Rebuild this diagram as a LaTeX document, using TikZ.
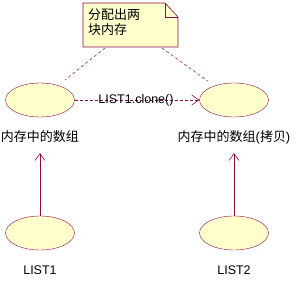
\documentclass[tikz,border=0pt]{standalone}
\usepackage{fontspec}
\setmainfont{Liberation Sans}
\newfontfamily\cjk{Noto Sans CJK SC}
\usetikzlibrary{arrows.meta,shapes.geometric}
\definecolor{rose}{RGB}{140,10,70}
\definecolor{pale}{RGB}{255,255,204}
\tikzset{
  uc/.style={ellipse,draw=rose,fill=pale,minimum width=69pt,minimum height=34pt,inner sep=0pt},
  lbl/.style={inner sep=1pt,font=\fontsize{12.5}{14}\selectfont},
  cj/.style={inner sep=1pt,font=\cjk\fontsize{13}{15.5}\selectfont},
  tipo/.style={-{Straight Barb[length=7pt,width=10pt,line width=0.6pt]}},
  dep/.style={draw=rose,dash pattern=on 3pt off 2pt,line width=0.6pt},
  anch/.style={draw=rose,dash pattern=on 3pt off 2.5pt,line width=0.5pt},
}
\begin{document}
\begin{tikzpicture}[x=1pt,y=-1pt]
\useasboundingbox (0,0) rectangle (303,286);
% note
\draw[rose,fill=pale,line width=0.6pt] (83,3) -- (165,3) -- (178,17) -- (178,47) -- (83,47) -- cycle;
\draw[rose,line width=0.6pt] (165,3) -- (165,17) -- (178,17);
\node[cj,anchor=north west,align=left,inner sep=0pt] (note) at (88,8) {分配出两\\[0pt]块内存};
\coordinate (n1) at (105,48);
\coordinate (n2) at (162,48);
% ellipses
\node[uc] (e1) at (40,100) {};
\node[uc] (e2) at (234,100) {};
\node[uc] (e3) at (40,233) {};
\node[uc] (e4) at (234,233) {};
% labels
\node[cj] (l1) at (40,137) {内存中的数组};
\node[cj] (l2) at (234,137) {内存中的数组\fontspec{Liberation Sans}(\cjk 拷贝\fontspec{Liberation Sans})};
\node[lbl] (l3) at (40,270) {LIST1};
\node[lbl] (l4) at (234,270) {LIST2};
\coordinate (t1) at (40,153);
\coordinate (t2) at (234,153);
% connectors
\draw[anch,shorten >=9pt] (n1) -- (e1);
\draw[anch,shorten >=8pt] (n2) -- (e2);
\draw[dep,tipo] (e1) -- (e2);
\node[lbl] (cl) at (136,100) {LIST1.clone()};
\draw[rose,line width=0.6pt,tipo] (e3) -- (t1);
\draw[rose,line width=0.6pt,tipo] (e4) -- (t2);
\end{tikzpicture}
\end{document}
